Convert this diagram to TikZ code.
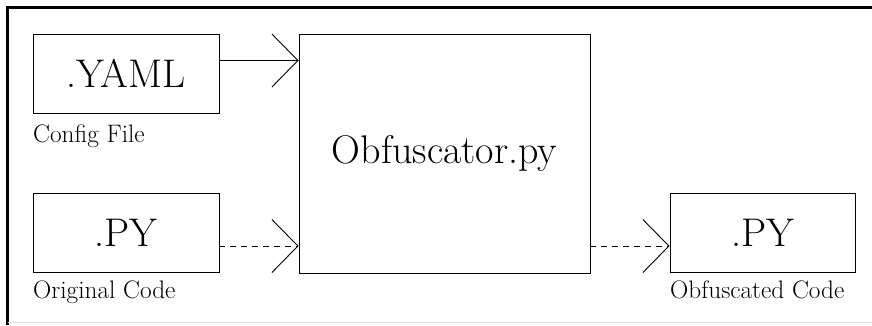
\documentclass[tikz,border=0pt]{standalone}
\usetikzlibrary{arrows.meta}
\begin{document}
\begin{tikzpicture}[x=1pt,y=-1pt,
  box/.style={draw, line width=0.9pt, inner sep=0pt, anchor=center},
  bigtxt/.style={font=\fontsize{40}{44}\selectfont},
  lbl/.style={font=\fontsize{25.3}{28}\selectfont, anchor=base west, inner sep=0pt},
  arr/.style={line width=0.9pt, -{Straight Barb[length=26pt, width=53pt, line width=0.9pt]}},
  dsh/.style={dash pattern=on 6pt off 5pt}]
\useasboundingbox (0,0) rectangle (872,325);
\draw[line width=2.2pt] (7.5,325) -- (7.5,7.5) -- (872,7.5);
\draw[black!12, line width=1pt] (7.5,322.5) -- (872,322.5);

\node[box, bigtxt, minimum width=186pt, minimum height=79pt] (yaml) at (126,73.5) {.YAML};
\node[box, bigtxt, minimum width=186pt, minimum height=79pt] (py) at (126,232.5) {.PY};
\node[box, bigtxt, minimum width=291pt, minimum height=239pt] (obf) at (444.5,153.5) {Obfuscator.py};
\node[box, bigtxt, minimum width=185pt, minimum height=79pt] (out) at (762.5,232.5) {.PY};

\node[lbl] (l1) at (33,142) {Config File};
\node[lbl] (l2) at (33,298) {Original Code};
\node[lbl] (l3) at (670,298) {Obfuscated Code};

\coordinate (a1) at ([yshift=13pt]yaml.east);
\coordinate (a2) at ([yshift=-13.5pt]py.east);
\draw[arr] (a1) -- (a1 -| obf.west);
\draw[arr, dsh] (a2) -- (a2 -| obf.west);
\draw[arr, dsh] (a2 -| obf.east) -- (a2 -| out.west);
\end{tikzpicture}
\end{document}
